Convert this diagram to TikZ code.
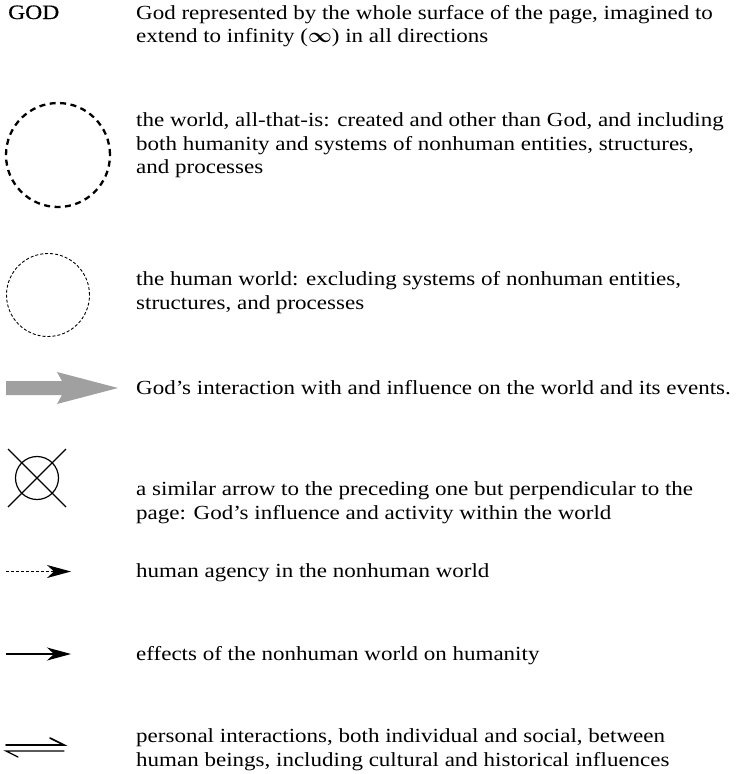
\documentclass[tikz,border=0pt]{standalone}
\usepackage{amsmath}
\usepackage{fontspec}
\setmainfont[FakeStretch=1.15]{Liberation Serif}
\usetikzlibrary{arrows.meta}
\definecolor{arrgray}{RGB}{160,160,160}
\tikzset{
  txt/.style={anchor=base west, inner sep=0pt, font=\fontsize{20}{23}\selectfont},
  keyline/.style={line width=1.3pt, -{Stealth[length=24pt,width=13pt,inset=7pt]}},
}
\begin{document}
\begin{tikzpicture}[x=1pt,y=-1pt]
\useasboundingbox (0,0) rectangle (752,774);
% GOD
\node[txt, font=\fontsize{20.5}{23}\selectfont\addfontfeature{FakeBold=0.6}] (god) at (8,19) {GOD};
\node[txt] (t1a) at (136,19) {God represented by the whole surface of the page, imagined to};
\node[txt] (t1b) at (136,42) {extend to infinity ($\boldsymbol{\infty}$) in all directions};
% world circle
\node[circle, draw, line width=2.3pt, dash pattern=on 6pt off 4.5pt, minimum size=104pt, inner sep=0pt] (world) at (58,155) {};
\node[txt] (t2a) at (136,126) {the world, all-that-is: created and other than God, and including};
\node[txt] (t2b) at (136,150) {both humanity and systems of nonhuman entities, structures,};
\node[txt] (t2c) at (136,173) {and processes};
% human world circle
\node[circle, draw, line width=0.9pt, dash pattern=on 3pt off 2pt, minimum size=83pt, inner sep=0pt] (human) at (48,295) {};
\node[txt] (t3a) at (136,285) {the human world: excluding systems of nonhuman entities,};
\node[txt] (t3b) at (136,309) {structures, and processes};
% gray arrow
\fill[arrgray] (6,381) -- (62,381) -- (57,372) -- (118,388) -- (57,404) -- (62,395) -- (6,395) -- cycle;
\node[txt] (t4) at (136,394) {God’s interaction with and influence on the world and its events.};
% crossed circle
\node[circle, draw, line width=1.2pt, minimum size=43pt, inner sep=0pt] (cross) at (37,478) {};
\draw[line width=1.2pt] (8,449) -- (66,507) (8,507) -- (66,449);
\node[txt] (t5a) at (136,495) {a similar arrow to the preceding one but perpendicular to the};
\node[txt] (t5b) at (136,519) {page: God’s influence and activity within the world};
% dotted arrow
\coordinate (d1) at (6,571.5);
\coordinate (d2) at (71,571.5);
\draw[keyline, dash pattern=on 3pt off 2pt] (d1) -- (d2);
\node[txt] (t6) at (136,577) {human agency in the nonhuman world};
% solid arrow
\coordinate (s1) at (6,654);
\coordinate (s2) at (71,654);
\draw[keyline] (s1) -- (s2);
\node[txt] (t7) at (136,660) {effects of the nonhuman world on humanity};
% harpoons
\coordinate (h1) at (6,745);
\coordinate (h2) at (64,745);
\coordinate (h3) at (50,738);
\coordinate (h4) at (64,751);
\coordinate (h5) at (6,751);
\coordinate (h6) at (18,757);
\draw[line width=1.6pt, line cap=round] (h1) -- (h2) -- (h3);
\draw[line width=1.3pt, line cap=round] (h4) -- (h5) -- (h6);
\node[txt] (t8a) at (136,742) {personal interactions, both individual and social, between};
\node[txt] (t8b) at (136,766) {human beings, including cultural and historical influences};
\end{tikzpicture}
\end{document}
